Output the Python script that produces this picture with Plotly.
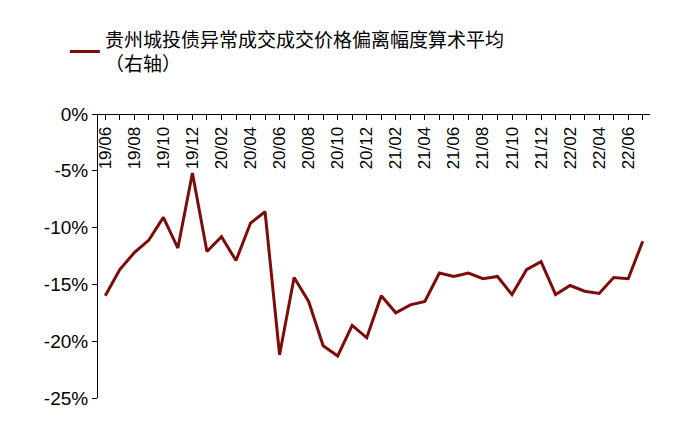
import plotly.graph_objects as go

months = ["19/06","19/07","19/08","19/09","19/10","19/11","19/12","20/01","20/02","20/03","20/04","20/05",
          "20/06","20/07","20/08","20/09","20/10","20/11","20/12","21/01","21/02","21/03","21/04","21/05",
          "21/06","21/07","21/08","21/09","21/10","21/11","21/12","22/01","22/02","22/03","22/04","22/05",
          "22/06","22/07"]
values = [-16.0,-13.7,-12.2,-11.1,-9.1,-11.8,-5.2,-12.1,-10.8,-12.9,-9.6,-8.6,
          -21.2,-14.4,-16.5,-20.4,-21.3,-18.6,-19.7,-16.0,-17.5,-16.8,-16.5,-14.0,
          -14.3,-14.0,-14.5,-14.3,-15.9,-13.7,-13.0,-15.9,-15.1,-15.6,-15.8,-14.4,
          -14.5,-11.2]
xticktext = [m if i % 2 == 0 else "" for i, m in enumerate(months)]
name = "贵州城投债异常成交成交价格偏离幅度算术平均<br>（右轴）"
yticks = [0,-5,-10,-15,-20,-25]
yticktext = ["0%","-5%","-10%","-15%","-20%","-25%"]

fig = go.Figure(go.Scatter(x=months, y=values, mode="lines", name=name,
                           line=dict(color="#7B0C0C", width=3)))
fig.update_layout(
    width=700, height=422, plot_bgcolor="white", paper_bgcolor="white",
    margin=dict(l=90, r=58, t=103, b=32),
    font=dict(family="Liberation Sans, Noto Sans CJK SC", size=19, color="black"),
    showlegend=True,
    legend=dict(x=-0.06, y=1.33, xanchor="left", yanchor="top", font=dict(size=19),
                bgcolor="rgba(0,0,0,0)"),
)
fig.update_xaxes(side="bottom", anchor="free", position=1, tickangle=-90,
                 tickvals=months, ticktext=xticktext, showline=True, linecolor="black", linewidth=1,
                 ticks="outside", ticklen=5, tickcolor="black", showgrid=False,
                 range=[-0.5, len(months)-0.5], tickfont=dict(size=17))
fig.update_yaxes(range=[-25, 0], tickvals=yticks, ticktext=yticktext, showline=True,
                 linecolor="black", linewidth=1, ticks="outside", ticklen=5,
                 tickcolor="black", showgrid=False, zeroline=False)
fig.write_html("out.html")
